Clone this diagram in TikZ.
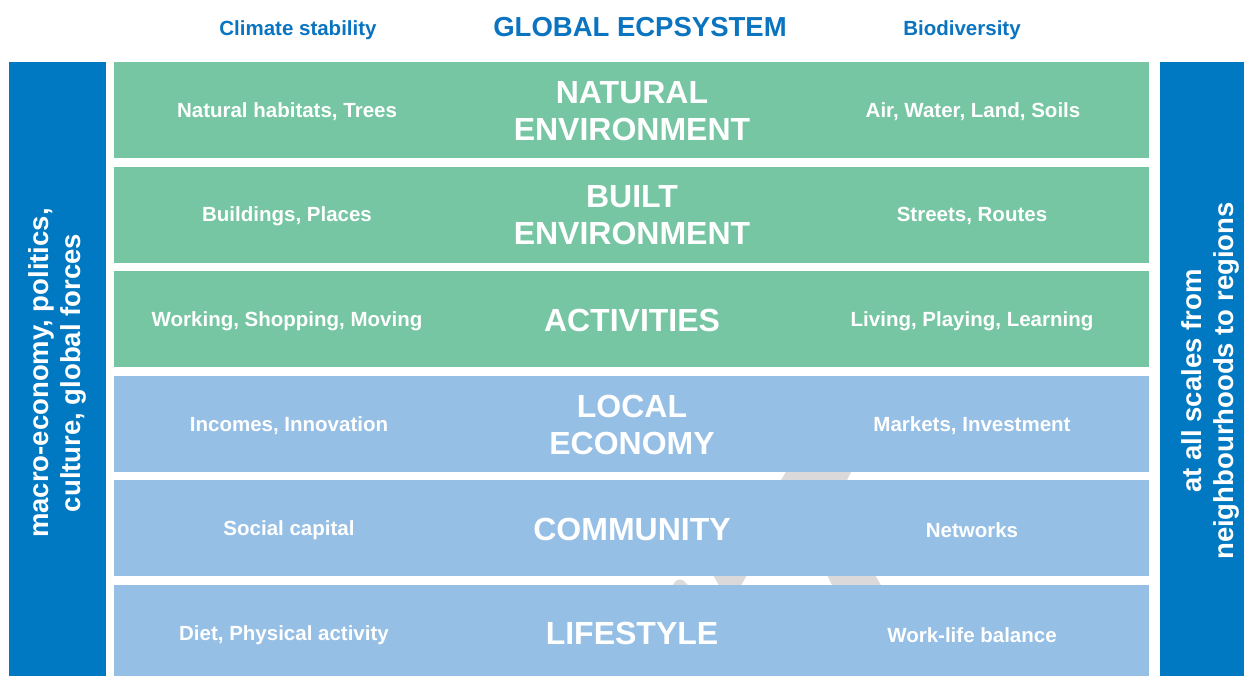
\documentclass[tikz,border=0pt]{standalone}
\usepackage{fontspec}
\setmainfont{Liberation Sans}
\definecolor{barblue}{HTML}{0079C2}
\definecolor{headblue}{HTML}{0A74C0}
\definecolor{bandgreen}{HTML}{76C6A3}
\definecolor{bandblue}{HTML}{96BFE5}
\definecolor{shadegray}{HTML}{DBD9D9}
\begin{document}
\begin{tikzpicture}[x=1pt,y=-1pt,
  band/.style={anchor=north west, minimum width=1035pt, minimum height=96pt,
    inner sep=0pt, outer sep=0pt, draw=none},
  greenband/.style={band, fill=bandgreen},
  blueband/.style={band, fill=bandblue},
  sidebar/.style={fill=barblue, draw=none},
  sidetext/.style={text=white, yshift=-2pt, font=\fontsize{20.5}{24}\selectfont\bfseries},
  coretext/.style={text=white, align=center, font=\fontsize{32}{37}\selectfont\bfseries},
  bartext/.style={text=white, align=center, rotate=90,
    font=\fontsize{27.5}{32}\selectfont\bfseries},
  headtext/.style={text=headblue, yshift=-1.5pt, font=\fontsize{20.5}{24}\selectfont\bfseries},
  titletext/.style={text=headblue, yshift=-1pt, font=\fontsize{27.5}{32}\selectfont\bfseries}]
\clip (0,0) rectangle (1244,675);
\fill[white] (0,0) rectangle (1244,675);

% grey shape showing through the gaps between the bands
\fill[shadegray] (787,470) -- (852,470) -- (846,482) -- (780,482) -- cycle;
\fill[shadegray] (713,575) -- (747,575) -- (740,587) -- (720,587) -- cycle;
\fill[shadegray] (827,575) -- (875,575) -- (882,587) -- (833,587) -- cycle;
\fill[shadegray] (672,587) .. controls (676,577) and (683,577) .. (689,587) -- cycle;

% header
\node[headtext] (hclimate) at (298,29) {Climate stability};
\node[titletext] (htitle) at (640,26) {GLOBAL ECPSYSTEM};
\node[headtext] (hbio) at (962,29) {Biodiversity};

% side bars
\node[sidebar, anchor=north west, minimum width=97pt, minimum height=620pt,
  inner sep=0pt] (lbar) at (9,62) {};
\node[bartext] (ltext) at (57,373) {macro-economy, politics,\\culture, global forces};
\node[sidebar, anchor=north west, minimum width=90pt, minimum height=620pt,
  inner sep=0pt] (rbar) at (1160,62) {};
\node[bartext] (rtext) at (1210,381) {at all scales from\\neighbourhoods to regions};

% bands
\node[greenband] (b1) at (114,62) {};
\node[greenband] (b2) at (114,166.6) {};
\node[greenband] (b3) at (114,271.2) {};
\node[blueband] (b4) at (114,375.8) {};
\node[blueband] (b5) at (114,480.4) {};
\node[blueband] (b6) at (114,585) {};

% band labels
\node[coretext] (c1) at (632,111.5) {NATURAL\\ENVIRONMENT};
\node[coretext] (c2) at (632,215.5) {BUILT\\ENVIRONMENT};
\node[coretext] (c3) at (632,320) {ACTIVITIES};
\node[coretext] (c4) at (632,424.5) {LOCAL\\ECONOMY};
\node[coretext] (c5) at (632,529) {COMMUNITY};
\node[coretext] (c6) at (632,633) {LIFESTYLE};

\node[sidetext] (l1) at (287,110) {Natural habitats, Trees};
\node[sidetext] (l2) at (287,214) {Buildings, Places};
\node[sidetext] (l3) at (287,319) {Working, Shopping, Moving};
\node[sidetext] (l4) at (289,424) {Incomes, Innovation};
\node[sidetext] (l5) at (289,528) {Social capital};
\node[sidetext] (l6) at (284,633) {Diet, Physical activity};

\node[sidetext] (r1) at (973,110) {Air, Water, Land, Soils};
\node[sidetext] (r2) at (972,214) {Streets, Routes};
\node[sidetext] (r3) at (972,319) {Living, Playing, Learning};
\node[sidetext] (r4) at (972,424) {Markets, Investment};
\node[sidetext] (r5) at (972,528) {Networks};
\node[sidetext] (r6) at (972,633) {Work-life balance};
\end{tikzpicture}
\end{document}
